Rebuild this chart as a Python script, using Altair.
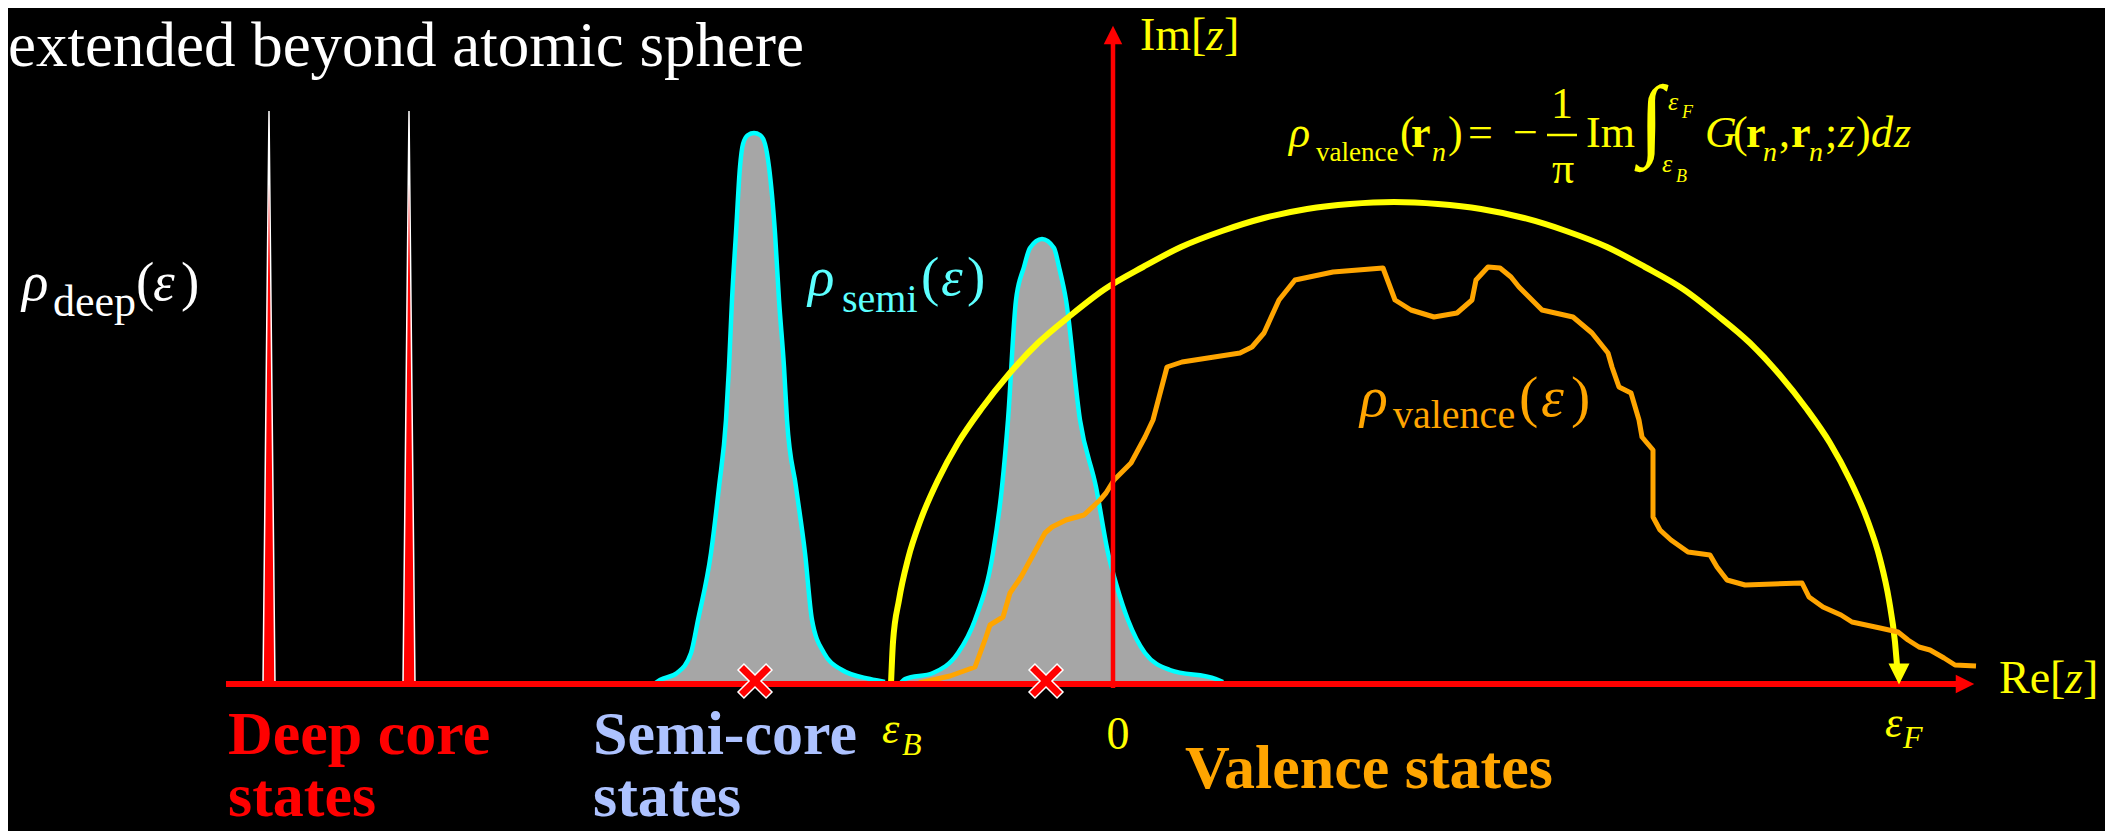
import altair as alt
import pandas as pd

# ---------------- data (energy axis: 0 at the Im axis; y = density above the Re axis) ----------
deep_core_levels = [-844, -704]
deep_core_height = [573, 573]

semi1_x = [-459, -453, -436, -422, -415, -402, -394, -387, -384, -381, -377, -373, -370, -365, -359,
           -353, -348, -344, -338, -334, -329, -326, -317, -308, -301, -289, -271, -243, -228]
semi1_y = [0, 4, 11, 31, 64, 131, 197, 264, 317, 384, 451, 517, 540, 549, 551,
           549, 540, 517, 451, 384, 317, 264, 197, 131, 64, 31, 14, 5, 2]

semi2_x = [-213, -208, -180, -155, -138, -120, -111, -105, -97, -89, -83, -71, -59, -54, -47,
           -33, -17, -5, 4, 15, 32, 57, 103, 110]
semi2_y = [0, 5, 11, 31, 64, 131, 197, 264, 384, 417, 436, 445, 436, 417, 384,
           264, 197, 131, 97, 64, 31, 14, 5, 2]

semi_levels = [-358, -67]

valence_x = [-194, -163, -138, -127, -123, -110, -103, -92, -68, -61, -47, -29, -13, -7, 1, 18, 25,
             32, 40, 54, 69, 127, 139, 151, 166, 182, 220, 270, 282, 298, 321, 344, 359, 363, 375,
             387, 398, 406, 429, 460, 479, 487, 495, 499, 506, 518, 526, 529, 540, 540, 547, 558,
             575, 597, 604, 614, 632, 689, 696, 710, 728, 739, 767, 785, 795, 806, 817, 831, 842, 863]
valence_y = [1, 8, 17, 47, 59, 67, 91, 107, 151, 157, 164, 169, 184, 191, 204, 221, 234,
             247, 264, 317, 322, 331, 337, 351, 384, 404, 412, 416, 384, 374, 367, 371, 384, 404, 417,
             416, 407, 397, 374, 367, 351, 341, 331, 317, 297, 291, 264, 247, 234, 167, 154, 144,
             132, 129, 117, 104, 99, 101, 87, 77, 69, 62, 56, 52, 44, 37, 34, 26, 19, 18]

contour_x = [-222, -220, -214, -205, -192, -175, -155, -131, -104, -75, -42, -8, 30, 68, 109, 151,
             194, 237, 281, 325, 368, 411, 453, 494, 532, 570, 604, 637, 666, 693, 717, 737, 754,
             767, 776, 782, 784]
contour_y = [0, 42, 84, 125, 165, 204, 241, 276, 310, 341, 369, 395, 417, 437, 453, 466,
             475, 480, 482, 480, 475, 466, 453, 437, 417, 395, 369, 341, 310, 276, 241, 204, 165,
             125, 84, 42, 19]
fermi_arrow = [786, 10]

re_axis = [-887, 846]      # line, arrow head centred at 852
im_axis = [-4, 641]        # line, arrow head centred at 649

X_DOM = [-1105, 992]
Y_DOM = [-147, 676]

W, C, O, YL, R, LB = "#FFFFFF", "#5CFFFF", "#FFA500", "#FFFF00", "#FF0000", "#ADC2FF"

labels = [
    ("extended beyond atomic sphere", -1105, 618, 63, W, "r"),
    ("ρ", -1091, 384, 55, W, "i"), ("deep", -1060, 368, 44, W, "r"),
    ("(", -977, 384, 55, W, "r"), ("ε", -960, 384, 55, W, "i"), (")", -932, 384, 55, W, "r"),
    ("ρ", -305, 389, 55, C, "i"), ("semi", -271, 372, 40, C, "r"),
    ("(", -192, 389, 55, C, "r"), ("ε", -172, 389, 55, C, "i"), (")", -146, 389, 55, C, "r"),
    ("ρ", 247, 268, 58, O, "i"), ("valence", 280, 256, 40, O, "r"),
    ("(", 406, 268, 58, O, "r"), ("ε", 428, 268, 58, O, "i"), (")", 458, 268, 58, O, "r"),
    ("ρ", 176, 537, 44, YL, "i"), ("valence", 203, 523, 27, YL, "r"),
    ("(", 287, 537, 44, YL, "r"), ("r", 298, 537, 44, YL, "b"), ("n", 319, 523, 28, YL, "i"),
    (")", 335, 537, 44, YL, "r"), ("=", 355, 537, 44, YL, "r"), ("−", 400, 537, 44, YL, "r"),
    ("1", 449, 566, 44, YL, "c"), ("π", 450, 501, 44, YL, "c"), ("Im", 473, 537, 44, YL, "r"),
    ("∫", 526, 536, 90, YL, "r"),
    ("ε", 555, 574, 26, YL, "i"), ("F", 569, 566, 18, YL, "i"),
    ("ε", 549, 512, 26, YL, "i"), ("B", 563, 502, 18, YL, "i"),
    ("G", 592, 537, 44, YL, "i"), ("(", 620, 537, 44, YL, "r"), ("r", 633, 537, 44, YL, "b"),
    ("n", 650, 523, 28, YL, "i"), (",", 666, 537, 44, YL, "r"), ("r", 678, 537, 44, YL, "b"),
    ("n", 696, 523, 28, YL, "i"), (";", 712, 537, 44, YL, "r"), ("z", 725, 537, 44, YL, "i"),
    (")", 743, 537, 44, YL, "r"), ("d", 758, 537, 44, YL, "i"), ("z", 781, 537, 44, YL, "i"),
    ("Im[", 27, 634, 46, YL, "r"), ("z", 93, 634, 46, YL, "i"), ("]", 111, 634, 46, YL, "r"),
    ("Re[", 886, -9, 46, YL, "r"), ("z", 952, -9, 46, YL, "i"), ("]", 970, -9, 46, YL, "r"),
    ("0", 5, -65, 46, YL, "c"),
    ("ε", -231, -59, 44, YL, "i"), ("B", -211, -71, 32, YL, "i"),
    ("ε", 772, -53, 44, YL, "i"), ("F", 790, -64, 32, YL, "i"),
    ("Deep core", -885, -70, 62, R, "b"), ("states", -885, -132, 62, R, "b"),
    ("Semi-core", -520, -70, 62, LB, "b"), ("states", -520, -132, 62, LB, "b"),
    ("Valence states", 72, -104, 62, O, "b"),
]

# ---------------- tables ----------------
spike_rows = []
for i, (xc, h) in enumerate(zip(deep_core_levels, deep_core_height)):
    spike_rows += [{"id": i, "x": xc - 6, "y": 0}, {"id": i, "x": xc, "y": h}, {"id": i, "x": xc + 6, "y": 0}]
spikes_df = pd.DataFrame(spike_rows)

semi_df = pd.concat([
    pd.DataFrame({"peak": "p1", "x": semi1_x, "y": semi1_y}),
    pd.DataFrame({"peak": "p2", "x": semi2_x, "y": semi2_y}),
])
valence_df = pd.DataFrame({"x": valence_x, "y": valence_y, "o": range(len(valence_x))})
contour_df = pd.DataFrame({"x": contour_x, "y": contour_y, "o": range(len(contour_x))})
marks_df = pd.DataFrame({"x": semi_levels, "y": [3, 3]})
text_df = pd.DataFrame(labels, columns=["t", "x", "y", "size", "color", "style"])

FONT = "Liberation Serif, Times New Roman, serif"


def X(f="x"):
    return alt.X(f, type="quantitative", scale=alt.Scale(domain=X_DOM, nice=False, zero=False), axis=None)


def Y(f="y"):
    return alt.Y(f, type="quantitative", scale=alt.Scale(domain=Y_DOM, nice=False, zero=False), axis=None)


spikes = alt.Chart(spikes_df).mark_area(fill=R, stroke="white", strokeWidth=1.5, opacity=1).encode(
    x=X(), y=Y(), y2=alt.datum(0), detail="id:N")

semi_area = alt.Chart(semi_df).mark_area(color="#A6A6A6", opacity=1, interpolate="monotone").encode(
    x=X(), y=Y(), y2=alt.datum(0), detail="peak:N")
semi_line = alt.Chart(semi_df).mark_line(color="#00FFFF", strokeWidth=4.5, interpolate="monotone").encode(
    x=X(), y=Y(), detail="peak:N")

contour = alt.Chart(contour_df).mark_line(color=YL, strokeWidth=6, interpolate="monotone").encode(
    x=X(), y=Y(), order="o:Q")
fermi_head = alt.Chart(pd.DataFrame({"x": [fermi_arrow[0]], "y": [fermi_arrow[1]]})).mark_point(
    shape="M-1,-1L1,-1L0,1Z", filled=True, color=YL, opacity=1, size=441, strokeWidth=0).encode(x=X(), y=Y())

valence = alt.Chart(valence_df).mark_line(color=O, strokeWidth=5, strokeJoin="round").encode(
    x=X(), y=Y(), order="o:Q")

re_line = alt.Chart(pd.DataFrame({"x": [re_axis[0]], "x2": [re_axis[1]], "y": [0]})).mark_rule(
    color=R, strokeWidth=6).encode(x=X(), x2="x2:Q", y=Y())
re_head = alt.Chart(pd.DataFrame({"x": [852], "y": [0]})).mark_point(
    shape="M-1,-1L1,0L-1,1Z", filled=True, color=R, opacity=1, size=340, strokeWidth=0).encode(x=X(), y=Y())
im_line = alt.Chart(pd.DataFrame({"x": [0], "y": [im_axis[0]], "y2": [im_axis[1]]})).mark_rule(
    color=R, strokeWidth=4.5).encode(x=X(), y=Y(), y2="y2:Q")
im_head = alt.Chart(pd.DataFrame({"x": [0], "y": [649]})).mark_point(
    shape="M-1,1L0,-1L1,1Z", filled=True, color=R, opacity=1, size=340, strokeWidth=0).encode(x=X(), y=Y())

xpath = "M-1,-0.65L-0.65,-1L0,-0.35L0.65,-1L1,-0.65L0.35,0L1,0.65L0.65,1L0,0.35L-0.65,1L-1,0.65L-0.35,0Z"
crosses = alt.Chart(marks_df).mark_point(
    shape=xpath, filled=True, fill=R, stroke="white", strokeWidth=1.5, opacity=1, size=1156).encode(x=X(), y=Y())

frac_bar = alt.Chart(pd.DataFrame({"x": [434], "x2": [464], "y": [549]})).mark_rule(
    color=YL, strokeWidth=2.5).encode(x=X(), x2="x2:Q", y=Y())


def text_layer(style, **kw):
    return alt.Chart(text_df).transform_filter(alt.datum.style == style).mark_text(
        font=FONT, baseline="alphabetic", **kw).encode(
        x=X(), y=Y(), text="t:N", size=alt.Size("size:Q", scale=None), color=alt.Color("color:N", scale=None))


t_reg = text_layer("r", align="left")
t_cen = text_layer("c", align="center")
t_ita = text_layer("i", align="left", fontStyle="italic")
t_bold = text_layer("b", align="left", fontWeight="bold")

chart = alt.layer(
    semi_area, semi_line, spikes, contour, valence, re_line, re_head, im_line, im_head,
    fermi_head, crosses, frac_bar, t_reg, t_cen, t_ita, t_bold
).properties(
    width=2097, height=823, padding=0, autosize=alt.AutoSizeParams(type="none"), background="black"
).configure_view(stroke=None)

chart.save("out.html", embed_options={"renderer": "svg", "actions": False})
